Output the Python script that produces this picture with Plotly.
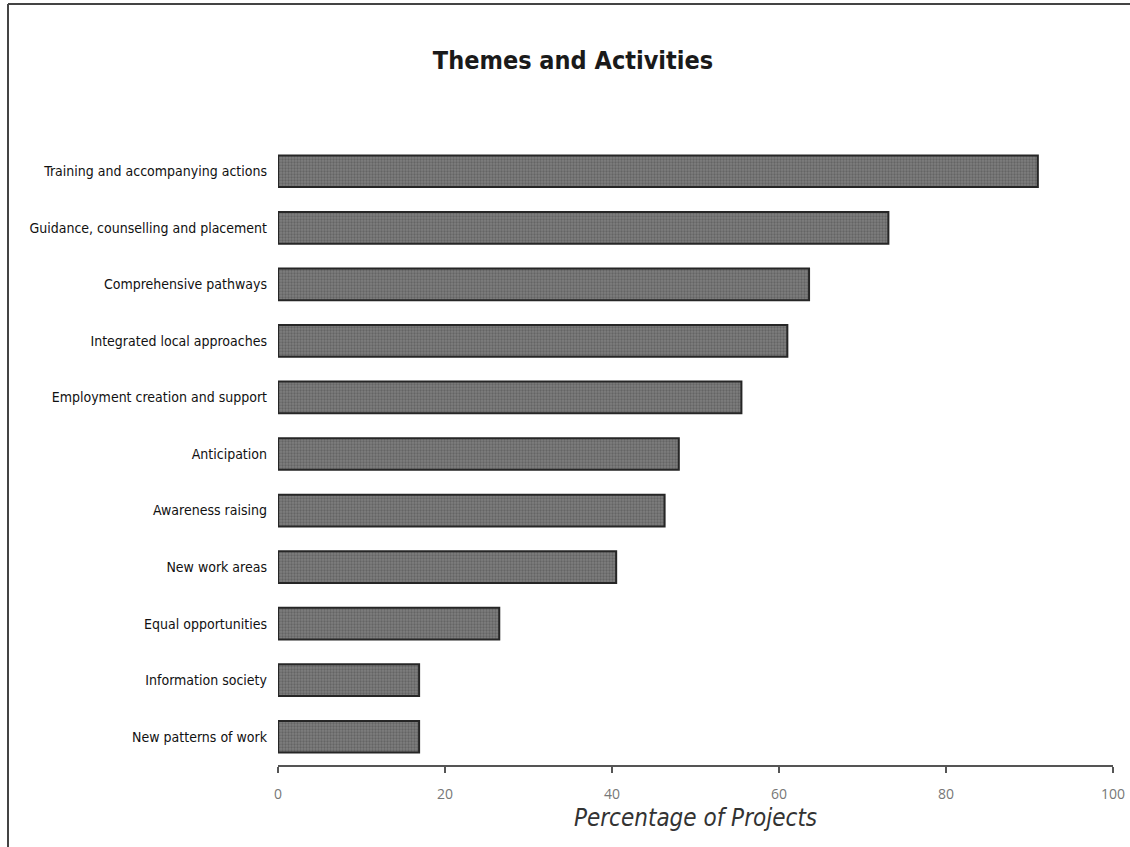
import plotly.graph_objects as go

categories = [
    "Training and accompanying actions",
    "Guidance, counselling and placement",
    "Comprehensive pathways",
    "Integrated local approaches",
    "Employment creation and support",
    "Anticipation",
    "Awareness raising",
    "New work areas",
    "Equal opportunities",
    "Information society",
    "New patterns of work",
]
values = [91.0, 73.1, 63.6, 61.0, 55.5, 48.0, 46.3, 40.5, 26.5, 16.9, 16.9]
x_ticks = [0, 20, 40, 60, 80, 100]

W, H = 1130, 847
L, R, T, B = 278, 17, 143, 82
pw, ph = W - L - R, H - T - B

def px_x(p):
    return (p - L) / pw

def px_y(p):
    return (H - B - p) / ph

narrow = "DejaVu Sans Condensed, Liberation Sans Narrow, Arial Narrow, sans-serif"

fig = go.Figure(
    go.Bar(
        x=values,
        y=categories,
        orientation="h",
        width=0.56,
        marker=dict(
            color="#6e6e6e",
            line=dict(color="#262626", width=2),
            pattern=dict(shape=".", fgcolor="#4a4a4a", bgcolor="#7e7e7e", size=3, solidity=0.45),
        ),
        hoverinfo="x+y",
    )
)

fig.update_layout(
    width=W,
    height=H,
    autosize=False,
    margin=dict(l=L, r=R, t=T, b=B, pad=0, autoexpand=False),
    paper_bgcolor="white",
    plot_bgcolor="white",
    showlegend=False,
    title=dict(
        text="<b>Themes and Activities</b>",
        x=573 / W,
        xanchor="center",
        xref="container",
        y=1 - 60 / H,
        yanchor="middle",
        yref="container",
        font=dict(family=narrow, size=25, color="#1a1a1a"),
    ),
    xaxis=dict(
        range=[0, 100],
        tickvals=x_ticks,
        ticktext=[str(v) for v in x_ticks],
        ticks="outside",
        ticklen=6,
        tickwidth=1.5,
        tickcolor="#555555",
        showline=True,
        linecolor="#555555",
        linewidth=1.5,
        showgrid=False,
        zeroline=False,
        automargin=False,
        ticklabelstandoff=9,
        tickfont=dict(family="Open Sans, Lato, sans-serif", size=14, color="#777777"),
        title=dict(
            text="Percentage of Projects",
            standoff=8,
            font=dict(family=narrow, size=24, color="#333333", style="italic"),
        ),
        fixedrange=True,
    ),
    yaxis=dict(
        categoryorder="array",
        categoryarray=categories[::-1],
        range=[-0.5, len(categories) - 0.5],
        showline=False,
        showgrid=False,
        zeroline=False,
        automargin=False,
        ticks="",
        ticklabelstandoff=10,
        tickfont=dict(family=narrow, size=14, color="#111111"),
        fixedrange=True,
    ),
    shapes=[
        dict(type="line", xref="paper", yref="paper",
             x0=px_x(8), x1=px_x(W), y0=px_y(4), y1=px_y(4),
             line=dict(color="#444444", width=2)),
        dict(type="line", xref="paper", yref="paper",
             x0=px_x(8), x1=px_x(8), y0=px_y(4), y1=px_y(H),
             line=dict(color="#444444", width=2)),
    ],
)

fig.write_html("out.html")
